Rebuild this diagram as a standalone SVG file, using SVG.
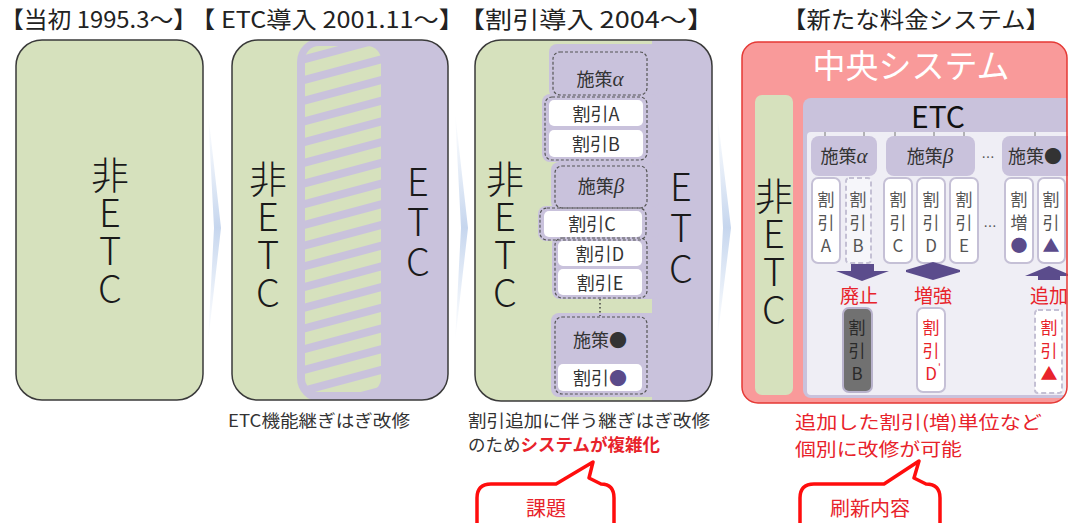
<svg xmlns="http://www.w3.org/2000/svg" width="1068" height="523" viewBox="0 0 1068 523">
<style>
text { font-family: 'Noto Sans CJK JP','Liberation Sans',sans-serif; }
.vert { writing-mode:vertical-rl; text-orientation:upright; text-anchor:start }
.big { font-size:38px; fill:#1a1a1a; font-weight:300 }
.hdr { font-size:23px; fill:#222 }
.panel { fill:none; stroke:#3a3a3a; stroke-width:1.5 }
.green { fill:#d6e1bd }
.purple { fill:#c9c2dc }
.dash { fill:none; stroke:#555; stroke-width:1.2; stroke-dasharray:3 2 }
.item { font-size:18px; fill:#333; text-anchor:middle }
.wbox { fill:#fff }
.vbox { fill:#fff; stroke:#c5c0d6; stroke-width:2 }
.vt { font-size:17px; fill:#555; letter-spacing:6px }
.rt { fill:#e8232b }
.lbl { font-size:19px; fill:#e8232b; text-anchor:middle }
.arr { fill:#5b4c8c }
.callout { fill:#fff; stroke:#ff0d0d; stroke-width:3.5; stroke-linejoin:round }
.cap { font-size:17px; fill:#333 }
.gk { font-family:'Liberation Serif',serif; font-style:italic; font-size:21px }
.tick { stroke:#777; stroke-width:1 }
.chev { fill:url(#chevg) }
</style>
<defs>
<linearGradient id="chevg" x1="0" y1="0" x2="0" y2="1">
<stop offset="0" stop-color="#d3e0f2" stop-opacity="0"/>
<stop offset="0.5" stop-color="#c6d6ee" stop-opacity="1"/>
<stop offset="1" stop-color="#d3e0f2" stop-opacity="0"/>
</linearGradient>
<pattern id="hatch" patternUnits="userSpaceOnUse" width="20" height="20" patternTransform="rotate(-15)">
<rect width="20" height="20" fill="#c9c2dc"/>
<rect width="20" height="12" fill="#d6e1bd"/>
</pattern>
<clipPath id="cp2"><rect x="232" y="40" width="216" height="360" rx="26"/></clipPath>
<clipPath id="cp3"><rect x="475" y="40" width="237" height="361" rx="26"/></clipPath>
<clipPath id="cp4"><rect x="742" y="42" width="325" height="361" rx="16"/></clipPath>
</defs>
<rect width="1068" height="523" fill="#fff"/>

<g id="headers">
<text class="hdr" x="0" y="28" textLength="197" lengthAdjust="spacingAndGlyphs">【当初 1995.3～】</text>
<text class="hdr" x="190" y="28" textLength="274" lengthAdjust="spacingAndGlyphs">【 ETC導入 2001.11～】</text>
<text class="hdr" x="458" y="28" textLength="256" lengthAdjust="spacingAndGlyphs">【割引導入 2004～】</text>
<text class="hdr" x="782" y="28" textLength="268" lengthAdjust="spacingAndGlyphs">【新たな料金システム】</text>
</g>

<g id="connectors">
<polygon class="chev" points="208,112 221,228 208,342 214,228"/>
<polygon class="chev" points="455,112 468,228 455,342 461,228"/>
<polygon class="chev" points="717,112 731,228 717,342 723,228"/>
</g>

<g id="panel1">
<rect x="16" y="40" width="187" height="360" rx="26" class="green"/>
<rect x="16" y="40" width="187" height="360" rx="26" class="panel"/>
<text class="big vert" x="110" y="156" glyph-orientation-vertical="0">非ETC</text>
</g>

<g id="panel2">
<g clip-path="url(#cp2)">
<rect x="232" y="40" width="216" height="360" class="green"/>
<rect x="297" y="38" width="170" height="364" rx="24" class="purple"/>
<rect x="305" y="46" width="76" height="346" rx="14" fill="url(#hatch)"/>
</g>
<rect x="232" y="40" width="216" height="360" rx="26" class="panel"/>
<text class="big vert" x="268" y="160" glyph-orientation-vertical="0">非ETC</text>
<text class="big vert" x="418" y="163" glyph-orientation-vertical="0" style="letter-spacing:2px">ETC</text>
<text class="cap" x="228" y="427" textLength="182" lengthAdjust="spacingAndGlyphs">ETC機能継ぎはぎ改修</text>
</g>

<g id="panel3">
<g clip-path="url(#cp3)">
<rect x="475" y="40" width="237" height="361" class="green"/>
<rect x="652" y="40" width="60" height="361" class="purple"/>
<rect x="549" y="44" width="110" height="54" rx="8" class="purple"/>
<rect x="542" y="94" width="117" height="68" rx="8" class="purple"/>
<rect x="551" y="162" width="108" height="48" rx="8" class="purple"/>
<rect x="538" y="206" width="121" height="35" rx="8" class="purple"/>
<rect x="552" y="236" width="107" height="63" rx="8" class="purple"/>
<rect x="551" y="313" width="108" height="84" rx="8" class="purple"/>
</g>
<rect x="475" y="40" width="237" height="361" rx="26" class="panel"/>
<text class="big vert" x="505" y="160" glyph-orientation-vertical="0">非ETC</text>
<text class="big vert" x="681" y="168" glyph-orientation-vertical="0" style="letter-spacing:3px">ETC</text>
<g id="p3-alpha">
<rect x="553" y="52" width="94" height="43" rx="7" class="dash"/>
<text class="item" x="600" y="86">施策<tspan class="gk">α</tspan></text>
</g>
<g id="p3-ab">
<rect x="545" y="97" width="102" height="63" rx="7" class="dash"/>
<rect x="549" y="100" width="94" height="26" rx="5" class="wbox"/>
<rect x="549" y="130" width="94" height="27" rx="5" class="wbox"/>
<text class="item" x="596" y="121">割引A</text>
<text class="item" x="596" y="151">割引B</text>
</g>
<g id="p3-beta">
<rect x="555" y="166" width="92" height="42" rx="7" class="dash"/>
<text class="item" x="601" y="193">施策<tspan class="gk">β</tspan></text>
</g>
<g id="p3-c">
<rect x="540" y="208" width="106" height="32" rx="7" class="dash"/>
<rect x="544" y="211" width="98" height="26" rx="5" class="wbox"/>
<text class="item" x="592" y="231">割引C</text>
</g>
<g id="p3-de">
<rect x="555" y="238" width="92" height="60" rx="7" class="dash"/>
<rect x="558" y="241" width="84" height="25" rx="5" class="wbox"/>
<rect x="558" y="269" width="84" height="26" rx="5" class="wbox"/>
<text class="item" x="600" y="261">割引D</text>
<text class="item" x="600" y="290">割引E</text>
<line x1="600" y1="299" x2="600" y2="316" stroke="#444" stroke-width="1.5" stroke-dasharray="1.5 2.5"/>
</g>
<g id="p3-dot">
<rect x="555" y="317" width="92" height="77" rx="7" class="dash"/>
<text class="item" x="600" y="347">施策●</text>
<rect x="558" y="364" width="84" height="27" rx="5" class="wbox"/>
<text class="item" x="600" y="385">割引<tspan fill="#5a4a8a">●</tspan></text>
</g>
<text class="cap" x="468" y="427" textLength="242" lengthAdjust="spacingAndGlyphs">割引追加に伴う継ぎはぎ改修</text>
<text class="cap" x="468" y="451" textLength="192" lengthAdjust="spacingAndGlyphs">のため<tspan class="rt" font-weight="bold">システムが複雑化</tspan></text>
</g>

<g id="central">
<rect x="742" y="42" width="325" height="361" rx="16" fill="#f99a9a"/>
<text x="911" y="78" font-size="33" fill="#fff" text-anchor="middle">中央システム</text>
<rect x="755" y="95" width="38" height="300" rx="7" class="green"/>
<text class="big vert" x="774" y="177" glyph-orientation-vertical="0">非ETC</text>
<g clip-path="url(#cp4)">
<rect x="803" y="98" width="290" height="300" rx="8" class="purple"/>
<rect x="807" y="132" width="290" height="263" rx="4" fill="#efeef5"/>
</g>
<text x="938" y="128" font-size="30" fill="#111" text-anchor="middle">ETC</text>
<g id="ticks">
<line class="tick" x1="825" y1="132" x2="825" y2="137"/>
<line class="tick" x1="864" y1="132" x2="864" y2="137"/>
<line class="tick" x1="895" y1="132" x2="895" y2="137"/>
<line class="tick" x1="934" y1="132" x2="934" y2="137"/>
<line class="tick" x1="964" y1="132" x2="964" y2="137"/>
<line class="tick" x1="1035" y1="132" x2="1035" y2="137"/>
</g>
<g id="c-alpha">
<rect x="811" y="136" width="66" height="40" rx="8" class="purple"/>
<text class="item" x="844" y="163" font-size="17">施策<tspan class="gk">α</tspan></text>
</g>
<g id="c-beta">
<rect x="886" y="136" width="89" height="40" rx="8" class="purple"/>
<text class="item" x="930" y="163" font-size="17">施策<tspan class="gk">β</tspan></text>
</g>
<text x="988" y="162" font-size="13" fill="#555" text-anchor="middle">…</text>
<g id="c-dot">
<rect x="1002" y="136" width="80" height="40" rx="8" class="purple"/>
<text class="item" x="1035" y="163" font-size="17">施策●</text>
</g>
<g id="c-a">
<rect x="812" y="178" width="28" height="85" rx="6" class="vbox"/>
<text class="vt vert" x="826" y="191" glyph-orientation-vertical="0">割引A</text>
</g>
<g id="c-b">
<rect x="846" y="178" width="25" height="85" rx="3" fill="#f6f6fa" stroke="#c4c0d4" stroke-width="2" stroke-dasharray="5 3"/>
<text class="vt vert" x="858" y="191" glyph-orientation-vertical="0">割引B</text>
</g>
<g id="c-c">
<rect x="884" y="178" width="28" height="85" rx="6" class="vbox"/>
<text class="vt vert" x="898" y="191" glyph-orientation-vertical="0">割引C</text>
</g>
<g id="c-d">
<rect x="917" y="178" width="28" height="85" rx="6" class="vbox"/>
<text class="vt vert" x="931" y="191" glyph-orientation-vertical="0">割引D</text>
</g>
<g id="c-e">
<rect x="950" y="178" width="28" height="85" rx="6" class="vbox"/>
<text class="vt vert" x="964" y="191" glyph-orientation-vertical="0">割引E</text>
</g>
<text x="990" y="231" font-size="13" fill="#555" text-anchor="middle">…</text>
<g id="c-zou">
<rect x="1005" y="178" width="28" height="85" rx="6" class="vbox"/>
<text class="vt vert" x="1019" y="191" glyph-orientation-vertical="0">割増<tspan fill="#5a4a8a">●</tspan></text>
</g>
<g id="c-tri">
<rect x="1038" y="178" width="27" height="85" rx="6" class="vbox"/>
<text class="vt vert" x="1051" y="191" glyph-orientation-vertical="0">割引<tspan fill="#5a4a8a">▲</tspan></text>
</g>
<g id="c-arrows">
<rect x="851" y="264" width="23" height="8" class="arr"/>
<polygon class="arr" points="836,271 889,271 862,281"/>
<polygon class="arr" points="906,270 933,262 960,270 960,272 933,280 906,272"/>
<polygon class="arr" points="1025,276 1049,266 1073,276"/>
<rect x="1038" y="276" width="22" height="4" class="arr"/>
</g>
<text class="lbl" x="859" y="303">廃止</text>
<text class="lbl" x="933" y="303">増強</text>
<text class="lbl" x="1049" y="303">追加</text>
<g id="c-b-old">
<rect x="843" y="308" width="29" height="84" rx="6" fill="#717171" stroke="#b8b2cc" stroke-width="2"/>
<text class="vt vert" x="857" y="319" glyph-orientation-vertical="0" style="fill:#2a2a2a">割引B</text>
</g>
<g id="c-d-new">
<rect x="917" y="308" width="28" height="84" rx="6" class="vbox"/>
<text class="vt vert rt" x="931" y="319" glyph-orientation-vertical="0">割引D</text>
<text x="938" y="371" font-size="10" class="rt">'</text>
</g>
<g id="c-tri-new">
<rect x="1035" y="310" width="27" height="83" rx="3" fill="#fff" stroke="#c4c0d4" stroke-width="2" stroke-dasharray="5 3"/>
<text class="vt vert rt" x="1049" y="319" glyph-orientation-vertical="0">割引▲</text>
</g>
<rect x="742" y="42" width="325" height="361" rx="16" fill="none" stroke="#e53935" stroke-width="1.5"/>
<text x="795" y="429" font-size="18" class="rt" textLength="247" lengthAdjust="spacingAndGlyphs">追加した割引(増)単位など</text>
<text x="795" y="456" font-size="18" class="rt" textLength="167" lengthAdjust="spacingAndGlyphs">個別に改修が可能</text>
</g>

<g id="callout-kadai">
<path class="callout" d="M477,540 V498 Q477,484 491,484 H556 L593,462 L589,478 L601,484 Q614,484 614,498 V540"/>
<text x="546" y="516" font-size="20" class="rt" text-anchor="middle">課題</text>
</g>
<g id="callout-shinki">
<path class="callout" d="M800,540 V498 Q800,484 814,484 H884 L919,461 L914,478 L926,484 Q940,484 940,498 V540"/>
<text x="870" y="516" font-size="20" class="rt" text-anchor="middle">刷新内容</text>
</g>
</svg>
